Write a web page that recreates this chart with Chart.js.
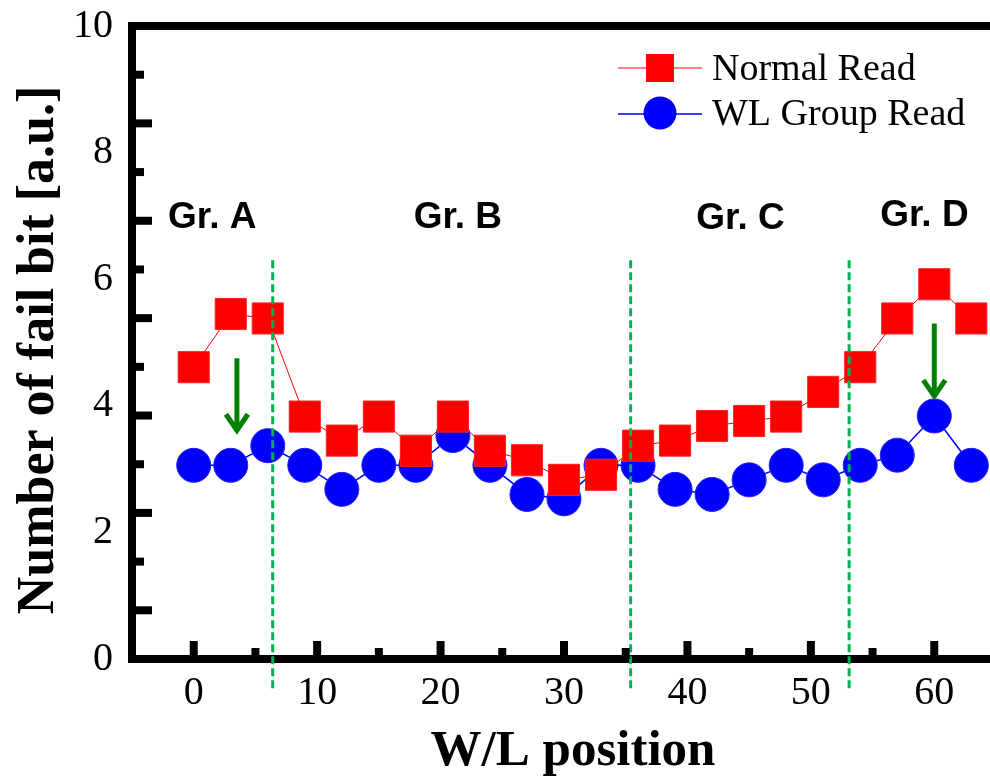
<!DOCTYPE html>
<html>
<head>
<meta charset="utf-8">
<script src="https://cdn.jsdelivr.net/npm/chart.js@4.4.1/dist/chart.umd.min.js"></script>
<style>
  html, body { margin: 0; padding: 0; background: #fff; overflow: hidden; }
</style>
</head>
<body>
<canvas id="failbit-chart" width="1019" height="782"></canvas>
<script>
// values
const wlPosition = [0, 3, 6, 9, 12, 15, 18, 21, 24, 27, 30, 33, 36, 39, 42, 45, 48, 51, 54, 57, 60, 63];
const normalRead = [4.61, 5.45, 5.38, 3.83, 3.45, 3.83, 3.29, 3.83, 3.29, 3.14, 2.83, 2.91, 3.37, 3.45, 3.68, 3.76, 3.83, 4.22, 4.61, 5.38, 5.92, 5.38];
const groupRead = [3.06, 3.06, 3.37, 3.06, 2.68, 3.06, 3.06, 3.53, 3.06, 2.60, 2.53, 3.06, 3.06, 2.68, 2.60, 2.83, 3.06, 2.83, 3.06, 3.22, 3.84, 3.06];

const xTickLabels = [0, 10, 20, 30, 40, 50, 60];
const yTickLabels = [0, 2, 4, 6, 8, 10];
const xMarks = [0, 5, 10, 15, 20, 25, 30, 35, 40, 45, 50, 55, 60];
const yMarkCount = 13; // the original figure has 13 tick intervals on the y axis

const groupBounds = [6.4, 35.4, 53.1];
const groupNames = ["Gr. A", "Gr. B", "Gr. C", "Gr. D"];
const groupNameX = [1.5, 21.4, 44.3, 59.2];
const groupNameY = [6.97, 6.97, 6.95, 7.0];
const arrowX = [3.5, 60];
const arrowFrom = [4.75, 5.3];
const arrowTo = [3.55, 4.09];

Chart.defaults.font.family = "'Liberation Serif', 'Times New Roman', serif";
Chart.defaults.color = "#000";

const figureExtras = {
  id: "figureExtras",
  afterDatasetsDraw(chart) {
    const { ctx, chartArea, scales: { x, y } } = chart;
    ctx.save();

    // group boundaries
    ctx.strokeStyle = "#00b050";
    ctx.lineWidth = 3;
    ctx.setLineDash([8, 4]);
    groupBounds.forEach((v) => {
      const px = x.getPixelForValue(v);
      ctx.beginPath();
      ctx.moveTo(px, y.getPixelForValue(6.3));
      ctx.lineTo(px, chartArea.bottom + 30);
      ctx.stroke();
    });
    ctx.setLineDash([]);

    // arrows
    ctx.strokeStyle = "#008000";
    ctx.lineWidth = 5;
    ctx.lineJoin = "miter";
    arrowX.forEach((v, i) => {
      const px = x.getPixelForValue(v);
      const top = y.getPixelForValue(arrowFrom[i]);
      const tip = y.getPixelForValue(arrowTo[i]);
      ctx.beginPath();
      ctx.moveTo(px, top);
      ctx.lineTo(px, tip - 3);
      ctx.stroke();
      ctx.beginPath();
      ctx.moveTo(px - 11, tip - 20);
      ctx.lineTo(px, tip - 4);
      ctx.lineTo(px + 11, tip - 20);
      ctx.stroke();
    });

    // group names
    ctx.fillStyle = "#000";
    ctx.font = "bold 37px 'Liberation Sans', Arial, sans-serif";
    ctx.textAlign = "center";
    ctx.textBaseline = "middle";
    groupNames.forEach((name, i) => {
      ctx.fillText(name, x.getPixelForValue(groupNameX[i]), y.getPixelForValue(groupNameY[i]));
    });
    ctx.restore();
  },
  afterDraw(chart) {
    const { ctx, chartArea, scales: { x, y } } = chart;
    ctx.save();
    ctx.strokeStyle = "#000";
    ctx.lineWidth = 8;
    ctx.lineCap = "butt";

    // top frame line
    ctx.beginPath();
    ctx.moveTo(chartArea.left - 4, chartArea.top);
    ctx.lineTo(chart.width, chartArea.top);
    ctx.stroke();

    // inward tick marks
    xMarks.forEach((v) => {
      const px = x.getPixelForValue(v);
      const len = v % 10 === 0 ? 18 : 11;
      ctx.beginPath();
      ctx.moveTo(px, chartArea.bottom);
      ctx.lineTo(px, chartArea.bottom - len);
      ctx.stroke();
    });
    for (let k = 1; k < yMarkCount; k++) {
      const py = y.getPixelForValue((10 * k) / yMarkCount);
      const len = k % 2 === 1 ? 20 : 12;
      ctx.beginPath();
      ctx.moveTo(chartArea.left, py);
      ctx.lineTo(chartArea.left + len, py);
      ctx.stroke();
    }

    // legend
    const rows = [
      { ds: chart.data.datasets[0], y: 68, base: 80 },
      { ds: chart.data.datasets[1], y: 114, base: 125 },
    ];
    ctx.font = "38px 'Liberation Serif', 'Times New Roman', serif";
    ctx.textAlign = "left";
    ctx.textBaseline = "alphabetic";
    rows.forEach((r) => {
      ctx.strokeStyle = r.ds.borderColor;
      ctx.lineWidth = r.ds.borderWidth;
      ctx.beginPath();
      ctx.moveTo(618, r.y);
      ctx.lineTo(702, r.y);
      ctx.stroke();
      ctx.fillStyle = r.ds.pointBackgroundColor;
      if (r.ds.pointStyle === "rect") {
        ctx.fillRect(646, r.y - 14, 28, 28);
      } else {
        ctx.beginPath();
        ctx.arc(660, r.y - 1, 16.5, 0, Math.PI * 2);
        ctx.fill();
      }
      ctx.fillStyle = "#000";
      ctx.fillText(r.ds.label, 712, r.base);
    });

    // axis titles
    ctx.font = "bold 51px 'Liberation Serif', 'Times New Roman', serif";
    ctx.textAlign = "center";
    ctx.fillText("W/L position", 573, 765);
    ctx.save();
    ctx.translate(40, 350);
    ctx.rotate(-Math.PI / 2);
    ctx.font = "bold 52px 'Liberation Serif', 'Times New Roman', serif";
    ctx.textBaseline = "middle";
    ctx.fillText("Number of fail bit [a.u.]", 0, 0);
    ctx.restore();

    ctx.restore();
  },
};

const failBitChart = new Chart(document.getElementById("failbit-chart"), {
  type: "line",
  data: {
    datasets: [
      {
        label: "Normal Read",
        data: wlPosition.map((v, i) => ({ x: v, y: normalRead[i] })),
        borderColor: "#ff0000",
        borderWidth: 1,
        pointStyle: "rect",
        pointRadius: 22,
        pointBackgroundColor: "#ff0000",
        pointBorderColor: "#ff2020",
        pointBorderWidth: 1,
        tension: 0,
      },
      {
        label: "WL Group Read",
        data: wlPosition.map((v, i) => ({ x: v, y: groupRead[i] })),
        borderColor: "#0000ff",
        borderWidth: 1.5,
        pointStyle: "circle",
        pointRadius: 17,
        pointBackgroundColor: "#0000ff",
        pointBorderColor: "#2020ff",
        pointBorderWidth: 1,
        tension: 0,
      },
    ],
  },
  options: {
    responsive: false,
    animation: false,
    devicePixelRatio: 1,
    layout: { padding: { top: 26, right: 4, left: 0, bottom: 0 } },
    plugins: {
      legend: { display: false },
      tooltip: { enabled: false },
    },
    scales: {
      x: {
        type: "linear",
        min: -5,
        max: 65,
        afterBuildTicks: (scale) => {
          scale.ticks = xTickLabels.map((v) => ({ value: v }));
        },
        afterFit: (scale) => {
          scale.height = 123;
          scale.paddingLeft = 0;
          scale.paddingRight = 0;
        },
        grid: { display: false, drawTicks: false },
        border: { display: true, width: 8, color: "#000" },
        ticks: { padding: 10, maxRotation: 0, font: { size: 40 }, color: "#000" },
      },
      y: {
        type: "linear",
        min: 0,
        max: 10,
        afterBuildTicks: (scale) => {
          scale.ticks = yTickLabels.map((v) => ({ value: v }));
        },
        afterFit: (scale) => {
          scale.width = 132;
          scale.paddingTop = 0;
          scale.paddingBottom = 0;
        },
        grid: { display: false, drawTicks: false },
        border: { display: true, width: 8, color: "#000" },
        ticks: { padding: 19, font: { size: 40 }, color: "#000" },
      },
    },
  },
  plugins: [figureExtras],
});
</script>
</body>
</html>
